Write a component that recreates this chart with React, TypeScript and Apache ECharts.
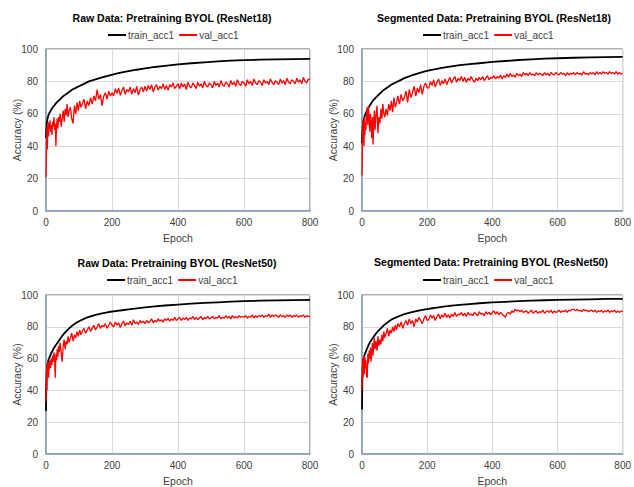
import React, { useEffect, useRef } from "react";
import * as echarts from "echarts";

const titles = [
  "Raw Data: Pretraining BYOL (ResNet18)",
  "Segmented Data: Pretraining BYOL (ResNet18)",
  "Raw Data: Pretraining BYOL (ResNet50)",
  "Segmented Data: Pretraining BYOL (ResNet50)",
];

const xTicks = [0, 200, 400, 600, 800];
const yTicks = [0, 20, 40, 60, 80, 100];

const trainEpochs = [0, 1, 2, 3, 4, 6, 8, 10, 13, 16, 20, 25, 30, 35, 40, 50, 60, 70, 80, 90, 100, 115, 130, 150, 170, 190, 210, 230, 250, 275, 300, 330, 360, 400, 440, 480, 520, 560, 600, 650, 700, 750, 800];

const valEpochs = [
  0, 1, 2, 3, 4, 5, 6, 7, 8, 9, 10,
  12, 14, 16, 18, 20, 22, 24, 26, 28, 30, 32, 34, 36, 38, 40,
  43, 46, 49, 52, 55, 58, 61, 64, 67, 70,
  74, 78, 82, 86, 90, 94, 98, 102, 106, 110,
  115, 120, 125, 130, 135, 140, 145, 150, 155, 160, 165, 170, 175, 180, 185, 190, 195, 200,
  205, 210, 215, 220, 225, 230, 235, 240, 245, 250,
  255, 260, 265, 270, 275, 280, 285, 290, 295, 300,
  305, 310, 315, 320, 325, 330, 335, 340, 345, 350,
  355, 360, 365, 370, 375, 380, 385, 390, 395, 400,
  405, 410, 415, 420, 425, 430, 435, 440, 445, 450,
  455, 460, 465, 470, 475, 480, 485, 490, 495, 500,
  505, 510, 515, 520, 525, 530, 535, 540, 545, 550,
  555, 560, 565, 570, 575, 580, 585, 590, 595, 600,
  605, 610, 615, 620, 625, 630, 635, 640, 645, 650,
  655, 660, 665, 670, 675, 680, 685, 690, 695, 700,
  705, 710, 715, 720, 725, 730, 735, 740, 745, 750,
  755, 760, 765, 770, 775, 780, 785, 790, 795, 800,
];

const trainRaw18 = [45, 50, 53, 55, 56.5, 58, 59.5, 60.5, 61.5, 62.5, 64, 65, 66.5, 67.5, 68.5, 70.5, 72, 73.5, 75, 76, 77, 78.5, 80, 81.2, 82.5, 83.6, 84.6, 85.5, 86.3, 87.2, 88, 88.9, 89.6, 90.5, 91.2, 91.8, 92.3, 92.8, 93.1, 93.4, 93.6, 93.8, 93.9];
const trainSeg18 = [42, 47, 51, 53.5, 55, 57, 58.5, 59.5, 61, 62.5, 64, 65.5, 67, 68.5, 69.5, 71.5, 73.5, 75.2, 76.5, 78, 79, 80.5, 82, 83.5, 84.8, 86, 87, 87.8, 88.5, 89.3, 90, 90.6, 91.2, 92, 92.6, 93.2, 93.6, 94, 94.3, 94.6, 94.8, 95, 95.1];
const trainRaw50 = [27, 44, 51, 54, 56, 58, 59.5, 60.5, 62, 63.5, 65, 67, 68.5, 70, 71.5, 74.5, 77, 79, 80.8, 82.3, 83.5, 85, 86.3, 87.5, 88.5, 89.3, 89.9, 90.4, 91, 91.6, 92.2, 92.8, 93.4, 94, 94.6, 95, 95.4, 95.8, 96.1, 96.4, 96.6, 96.8, 96.9];
const trainSeg50 = [28, 45, 53, 57, 59, 61, 62.5, 63.5, 65, 66.5, 68.5, 70.5, 72, 73.5, 75, 77.5, 79.5, 81.5, 83, 84.5, 85.5, 86.8, 88, 89, 90, 90.8, 91.5, 92.1, 92.7, 93.3, 93.8, 94.3, 94.8, 95.3, 95.7, 96.1, 96.4, 96.7, 96.9, 97.1, 97.3, 97.5, 97.6];

const valRaw18 = [
  21, 32, 45, 52, 38, 48, 55, 50, 46, 54, 51,
  56, 49, 53, 47, 55, 52, 58, 50, 54, 40, 53, 57, 51, 58, 55,
  60, 52, 57, 62, 55, 63, 59, 66, 58, 62,
  64, 57, 54, 65, 60, 67, 62, 68, 64, 66,
  69, 63, 68, 65, 70, 66, 71, 68, 75, 69, 72, 65, 71, 73, 69, 74, 71, 73,
  71, 75.5, 72.5, 76, 71.5, 74, 76.5, 72, 75, 73.5,
  76.5, 72, 75.5, 73, 77, 71.5, 75, 76.5, 73.5, 77,
  74, 77.5, 75, 78, 73.5, 76.5, 78, 74.5, 77, 75.5,
  78.5, 75, 77.5, 74.5, 78, 76.5, 79, 75.5, 77, 78.5,
  75.5, 79, 76.5, 78.5, 75, 79.5, 77, 76, 79, 77.5,
  75.5, 79.5, 77, 78.5, 76, 80, 77.5, 76.5, 79, 78,
  76, 80, 77.5, 79, 76.5, 80.5, 78, 77, 79.5, 78.5,
  76.5, 80.5, 78, 79.5, 77, 81, 78.5, 77.5, 80, 79,
  77, 81, 78.5, 80, 77.5, 81.5, 79, 78, 80.5, 79.5,
  77.5, 81, 79, 80, 78, 81.5, 79.5, 78, 80.5, 79.5,
  78, 81.5, 79, 80.5, 78, 82, 79.5, 78.5, 81, 80,
  78.5, 82, 79.5, 81, 78.5, 82.5, 80, 79, 81.5, 81,
];
const valSeg18 = [
  22, 35, 48, 56, 44, 52, 40, 50, 58, 47, 55,
  50, 60, 64, 53, 65, 57, 49, 60, 54, 45, 58, 41, 55, 62, 50,
  59, 65, 48, 58, 54, 63, 57, 66, 60, 58,
  63, 59, 66, 62, 68, 61, 70, 64, 67, 71,
  66, 72, 68, 70, 74, 67, 75, 70, 73, 77, 71, 76, 73, 78, 72, 77, 79, 76,
  76, 80, 77.5, 81, 76.5, 79.5, 81.5, 77.5, 80.5, 78.5,
  81.5, 78, 80.5, 82.5, 79, 81.5, 83, 79.5, 82, 80.5,
  83, 80, 82.5, 79.5, 82, 80.5, 83, 81, 79.5, 82,
  80.5, 82.5, 81, 83, 80.5, 82, 83.5, 81, 82.5, 82,
  83.5, 81.5, 83, 82, 84, 81.5, 83.5, 82.5, 84.5, 82.5,
  85, 83, 84, 82.5, 85, 83.5, 84.5, 83, 85.5, 84,
  85, 83.5, 85.5, 84, 84.5, 83.5, 85.5, 84, 85, 84.5,
  83.5, 85.5, 84, 85, 83.5, 85.5, 84.5, 84, 85.5, 84.5,
  84, 85.5, 84.5, 85, 83.5, 85.5, 84, 85, 84.5, 85.5,
  84, 85.5, 84.5, 85, 84, 86, 84.5, 85, 84, 85.5,
  84.5, 85.5, 84, 86, 84.5, 85.5, 84.5, 86, 85, 85.5,
  84.5, 86, 85, 85.5, 84.5, 86, 84.5, 85.5, 84.5, 85,
];
const valRaw50 = [
  33, 45, 55, 40, 52, 58, 50, 55, 48, 57, 53,
  59, 54, 60, 56, 62, 58, 64, 60, 48, 63, 59, 66, 61, 68, 64,
  70, 63, 58, 68, 72, 66, 71, 69, 74, 70,
  73, 76, 71, 75, 73, 77, 74, 78, 75, 77,
  79, 76, 78, 80, 77, 79, 81, 78, 80, 82, 79, 81, 80, 82, 79, 81, 83, 81,
  80, 83, 81, 82.5, 79.5, 82, 83.5, 80.5, 82.5, 81.5,
  83.5, 81, 84.5, 82, 83, 81.5, 84, 82.5, 83.5, 82,
  84, 82.5, 83.5, 85, 82.5, 84, 83, 85, 83.5, 84.5,
  83, 85, 84, 85.5, 83.5, 85, 84, 86, 84, 85,
  86, 84, 85.5, 84.5, 86, 84, 85.5, 85, 86.5, 84.5,
  86, 84.5, 85.5, 86.5, 84.5, 86, 85, 86.5, 85, 85.5,
  86.5, 85, 86, 85.5, 87, 85, 86, 85.5, 87, 85.5,
  86.5, 85, 87, 85.5, 86.5, 85.5, 87, 86, 86.5, 86,
  87, 85.5, 86.5, 86, 87.5, 85.5, 87, 86, 87, 86.5,
  87.5, 86, 87, 86.5, 88, 86, 87.5, 86.5, 87.5, 87,
  86, 87.5, 86.5, 87, 86, 87.5, 86.5, 87.5, 86, 87,
  86.5, 87.5, 86, 87, 86.5, 87.5, 86, 87, 86.5, 86.5,
];
const valSeg50 = [
  40, 52, 60, 48, 58, 55, 62, 50, 57, 61, 54,
  59, 49, 48, 63, 57, 65, 60, 67, 58, 64, 70, 62, 68, 73, 66,
  71, 65, 74, 68, 72, 69, 75, 71, 77, 73,
  76, 79, 74, 78, 76, 80, 77, 81, 78, 82,
  80, 83, 79, 82, 84, 81, 85, 82, 84, 80, 85, 83, 86, 84, 82, 85, 87, 84,
  84.5, 87.5, 85.5, 87, 84, 86.5, 88, 85, 87.5, 86,
  88.5, 86, 87.5, 85.5, 88, 86.5, 89, 86.5, 88, 87.5,
  89, 87, 88.5, 86.5, 89, 87.5, 88, 87, 89, 88,
  87, 89.5, 88, 88.5, 87, 89.5, 88, 89, 87.5, 89,
  90, 88, 89.5, 87.5, 89, 88, 87, 86, 88.5, 89,
  88, 90, 89, 91, 90, 90.5, 89.5, 90.5, 89, 89.5,
  90, 88.5, 89.5, 90.5, 88.5, 89.5, 90, 88.5, 89.5, 89,
  90.5, 88.5, 89.5, 90, 89, 90.5, 88.5, 90, 89, 89.5,
  90.5, 89, 90, 89.5, 90.5, 89, 90.5, 90, 91, 91,
  90, 91, 90, 90.5, 89.5, 91, 90, 90.5, 89.5, 90,
  90.5, 89.5, 90.5, 89, 90, 89.5, 90.5, 89, 90, 89.5,
  90.5, 89, 90, 89.5, 90.5, 89, 90, 89, 90, 89.5,
];

const trainSeries = [trainRaw18, trainSeg18, trainRaw50, trainSeg50];
const valSeries = [valRaw18, valSeg18, valRaw50, valSeg50];

const FONT = "Liberation Sans, Arial, sans-serif";

const grids = [
  { left: 46, top: 49, width: 264, height: 162 },
  { left: 362, top: 49, width: 263, height: 162 },
  { left: 46, top: 295, width: 264, height: 161 },
  { left: 362, top: 295, width: 262, height: 161 },
];
const titlePos = [
  { x: 172, y: 18 },
  { x: 494, y: 18 },
  { x: 177, y: 263 },
  { x: 491, y: 262 },
];
const legendPos = [
  { x: 108, y: 30 },
  { x: 423, y: 30 },
  { x: 107, y: 275 },
  { x: 423, y: 275 },
];

const zip = (xs: number[], ys: number[]) => ys.map((y, i) => [xs[i], y]);

export default function App() {
  const ref = useRef<HTMLDivElement>(null);
  useEffect(() => {
    if (!ref.current) return;
    const chart = echarts.init(ref.current, null, { renderer: "svg" });
    const option: any = {
      animation: false,
      backgroundColor: "#ffffff",
      textStyle: { fontFamily: FONT },
      graphic: [] as any[],
      legend: [] as any[],
      grid: [] as any[],
      xAxis: [] as any[],
      yAxis: [] as any[],
      series: [] as any[],
    };
    for (let i = 0; i < 4; i++) {
      const g = grids[i];
      option.grid.push({
        left: g.left,
        top: g.top,
        width: g.width,
        height: g.height,
        show: true,
        borderColor: "#5f5f5f",
        borderWidth: 1,
        backgroundColor: "transparent",
      });
      option.graphic.push({
        type: "text",
        x: titlePos[i].x,
        y: titlePos[i].y,
        style: {
          text: titles[i],
          fontFamily: FONT,
          fontSize: 10.5,
          fontWeight: "bold",
          fill: "#000",
          align: "center",
          verticalAlign: "middle",
        },
      });
      option.legend.push({
        left: legendPos[i].x,
        top: legendPos[i].y,
        orient: "horizontal",
        data: ["train_acc1", "val_acc1"],
        icon: "rect",
        itemWidth: 18,
        itemHeight: 2,
        itemGap: 5,
        padding: 0,
        textStyle: { fontFamily: FONT, fontSize: 10, color: "#404040", padding: [0, 0, 0, -3] },
        selectedMode: false,
      });
      option.xAxis.push({
        type: "value",
        gridIndex: i,
        min: 0,
        max: 800,
        interval: 200,
        name: "Epoch",
        nameLocation: "middle",
        nameGap: 21,
        nameMoveOverlap: false,
        nameTextStyle: { fontFamily: FONT, fontSize: 10.5, color: "#404040" },
        axisLine: { show: true, lineStyle: { color: "#8a9bbb", width: 1.5 } },
        axisTick: { show: false },
        axisLabel: {
          fontFamily: FONT,
          fontSize: 10,
          color: "#404040",
          margin: 6,
          customValues: xTicks,
        },
        splitLine: { show: true, lineStyle: { color: "#d9d9d9", width: 1 } },
      });
      option.yAxis.push({
        type: "value",
        gridIndex: i,
        min: 0,
        max: 100,
        interval: 20,
        name: "Accuracy (%)",
        nameLocation: "middle",
        nameGap: 24,
        nameMoveOverlap: false,
        nameRotate: 90,
        nameTextStyle: { fontFamily: FONT, fontSize: 10.5, color: "#404040" },
        axisLine: { show: true, lineStyle: { color: "#8a9bbb", width: 1.5 } },
        axisTick: { show: false },
        axisLabel: {
          fontFamily: FONT,
          fontSize: 10,
          color: "#404040",
          margin: 8,
          customValues: yTicks,
        },
        splitLine: { show: true, lineStyle: { color: "#d9d9d9", width: 1 } },
      });
      option.series.push({
        name: "train_acc1",
        type: "line",
        xAxisIndex: i,
        yAxisIndex: i,
        data: zip(trainEpochs, trainSeries[i]),
        symbol: "none",
        showSymbol: false,
        color: "#000000",
        lineStyle: { color: "#000000", width: 1.8 },
        z: 2,
      });
      option.series.push({
        name: "val_acc1",
        type: "line",
        xAxisIndex: i,
        yAxisIndex: i,
        data: zip(valEpochs, valSeries[i]),
        symbol: "none",
        showSymbol: false,
        color: "#ff0000",
        lineStyle: { color: "#ff0000", width: 1.3 },
        z: 3,
      });
    }
    chart.setOption(option);
    return () => chart.dispose();
  }, []);
  return (
    <div
      ref={ref}
      style={{ position: "fixed", left: 0, top: 0, width: 634, height: 487, background: "#fff" }}
    />
  );
}
